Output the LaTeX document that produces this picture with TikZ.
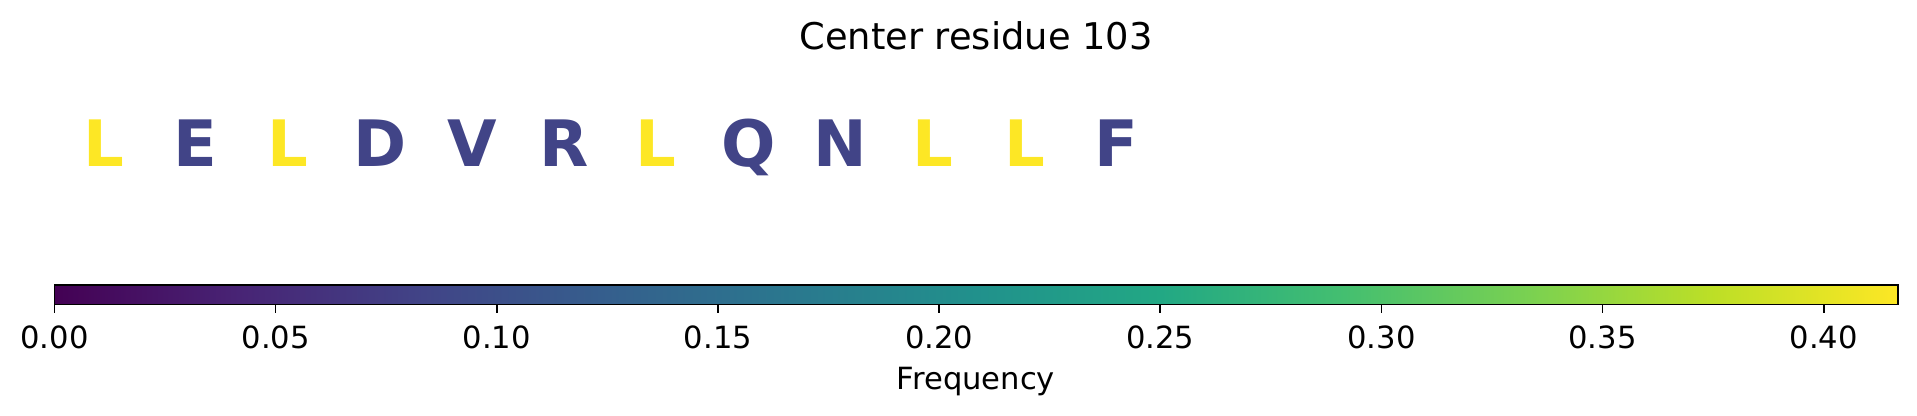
\documentclass[tikz,border=0pt]{standalone}
\usepackage{fontspec}
\setmainfont{DejaVu Sans}
\definecolor{vir0}{HTML}{440154}
\definecolor{vir1}{HTML}{482475}
\definecolor{vir2}{HTML}{414487}
\definecolor{vir3}{HTML}{355F8D}
\definecolor{vir4}{HTML}{2A788E}
\definecolor{vir5}{HTML}{21918C}
\definecolor{vir6}{HTML}{22A884}
\definecolor{vir7}{HTML}{44BF70}
\definecolor{vir8}{HTML}{7AD151}
\definecolor{vir9}{HTML}{BDDF26}
\definecolor{vir10}{HTML}{FDE725}
\definecolor{lownavy}{HTML}{414487}
\definecolor{highyel}{HTML}{FDE725}
\pgfdeclarehorizontalshading{viridis}{100bp}{color(0bp)=(vir0); color(25bp)=(vir0); color(30bp)=(vir1); color(35bp)=(vir2); color(40bp)=(vir3); color(45bp)=(vir4); color(50bp)=(vir5); color(55bp)=(vir6); color(60bp)=(vir7); color(65bp)=(vir8); color(70bp)=(vir9); color(75bp)=(vir10); color(100bp)=(vir10)}
\tikzset{
  residue/.style={anchor=base, inner sep=0pt, font=\fontsize{32}{36}\selectfont\bfseries},
  ticklab/.style={anchor=base, inner sep=0pt, font=\fontsize{15.3}{18}\selectfont},
  titlelab/.style={anchor=base, inner sep=0pt, font=\fontsize{18.4}{22}\selectfont},
  tickmark/.style={line width=0.8pt, black},
  cbarframe/.style={draw=black, line width=0.8pt}
}
\begin{document}
\begin{tikzpicture}[x=0.5pt,y=-0.5pt]
\useasboundingbox (0,0) rectangle (1917,416);
\node[titlelab] (title) at (976,50) {Center residue 103};
\foreach \ch/\col [count=\i from 0] in {L/highyel,E/lownavy,L/highyel,D/lownavy,V/lownavy,R/lownavy,L/highyel,Q/lownavy,N/lownavy,L/highyel,L/highyel,F/lownavy}
  \node[residue, text=\col] (r\i) at ({103.5+92.1*\i},166.7) {\ch};
\coordinate (cbsw) at (54.5,304.5);
\coordinate (cbne) at (1897.7,285);
\shade[shading=viridis] (cbsw) rectangle (cbne);
\draw[cbarframe] (cbsw) rectangle (cbne);
\foreach \k/\lab in {0/0.00,1/0.05,2/0.10,3/0.15,4/0.20,5/0.25,6/0.30,7/0.35,8/0.40} {
  \coordinate (t\k) at ({54.5+221.15*\k},304.5);
  \coordinate (te\k) at ({54.5+221.15*\k},313);
  \draw[tickmark] (t\k) -- (te\k);
  \node[ticklab] (tl\k) at ({54.5+221.15*\k},349) {\lab};
}
\node[ticklab] (flabel) at (976,390) {Frequency};
\end{tikzpicture}
\end{document}
